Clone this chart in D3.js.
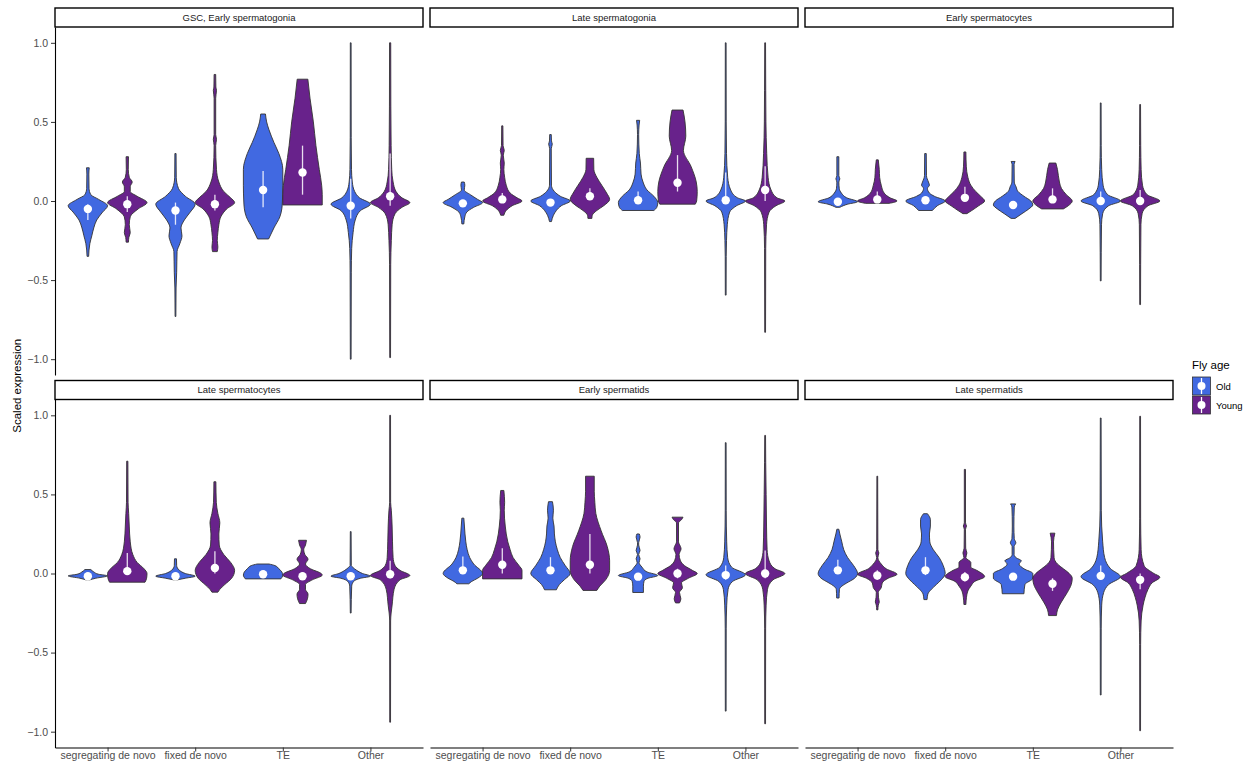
<!DOCTYPE html>
<html>
<head>
<meta charset="utf-8">
<script src="https://cdn.jsdelivr.net/npm/d3@7"></script>
<style>
  body { margin: 0; background: #fff; }
  svg { font-family: "Liberation Sans", Arial, sans-serif; }
  .tick text { fill: #4d4d4d; font-size: 10.5px; }
  .tick line { stroke: #333; }
  .domain { stroke: #000; }
</style>
</head>
<body>
<svg id="chart-svg" width="1250" height="763"></svg>
<script>
////////////////////////////////////////////////////////////////////////////////
// Data: facets, categories, summary values
var panels = ["GSC, Early spermatogonia", "Late spermatogonia", "Early spermatocytes",
              "Late spermatocytes", "Early spermatids", "Late spermatids"];
var categories = ["segregating de novo", "fixed de novo", "TE", "Other"];
var ages = ["Old", "Young"];
var yTicks = [-1, -0.5, 0, 0.5, 1];

// per panel, order: seg Old, seg Young, fixed Old, fixed Young, TE Old, TE Young, Other Old, Other Young
var medianVals = [
  [-0.05, -0.02, -0.06, -0.02, 0.07, 0.18, -0.03, 0.03],
  [-0.015, 0.01, -0.01, 0.03, 0.005, 0.115, 0.005, 0.07],
  [-0.005, 0.01, 0.005, 0.02, -0.025, 0.01, 0.0, 0.0],
  [-0.017, 0.015, -0.017, 0.035, -0.005, -0.017, -0.017, -0.005],
  [0.02, 0.055, 0.02, 0.055, -0.02, 0.0, -0.01, 0.0],
  [0.02, -0.013, 0.02, -0.023, -0.02, -0.065, -0.015, -0.04]
];
var lowerVals = [
  [-0.12, -0.07, -0.15, -0.06, -0.04, 0.04, -0.11, -0.03],
  [-0.03, -0.01, -0.03, 0.01, 0.0, 0.06, 0.0, 0.0],
  [-0.01, 0.005, 0.0, 0.02, -0.03, 0.01, 0.0, 0.0],
  [-0.02, 0.01, -0.02, 0.0, -0.01, -0.04, -0.02, -0.03],
  [0.0, 0.0, 0.0, 0.0, -0.03, -0.03, -0.04, -0.03],
  [0.0, -0.04, -0.01, -0.05, -0.04, -0.11, -0.04, -0.1]
];
var upperVals = [
  [-0.02, 0.03, -0.01, 0.04, 0.19, 0.35, 0.14, 0.30],
  [0.0, 0.05, 0.0, 0.08, 0.06, 0.29, 0.18, 0.22],
  [0.01, 0.06, 0.02, 0.09, 0.0, 0.08, 0.06, 0.07],
  [-0.01, 0.13, -0.01, 0.14, 0.0, 0.0, -0.01, 0.08],
  [0.108, 0.16, 0.103, 0.25, 0.0, 0.03, 0.05, 0.146],
  [0.087, 0.02, 0.103, 0.01, 0.0, -0.03, 0.05, 0.0]
];

// violin outlines: [value, relative half-width] from top to bottom
var shapeGSC = [
  [[0.21,0.07],[0.17,0.05],[0.08,0.06],[0.04,0.15],[0.01,0.55],[-0.03,1.0],[-0.07,0.75],[-0.12,0.45],[-0.17,0.3],[-0.22,0.2],[-0.27,0.1],[-0.35,0.04]],
  [[0.28,0.06],[0.2,0.05],[0.15,0.1],[0.12,0.25],[0.09,0.15],[0.06,0.15],[0.03,0.5],[-0.01,1.0],[-0.05,0.55],[-0.1,0.15],[-0.15,0.1],[-0.2,0.15],[-0.23,0.08],[-0.26,0.06]],
  [[0.30,0.03],[0.15,0.04],[0.08,0.15],[0.03,0.5],[-0.02,1.0],[-0.07,0.75],[-0.12,0.45],[-0.17,0.28],[-0.22,0.33],[-0.27,0.22],[-0.32,0.08],[-0.45,0.06],[-0.55,0.03],[-0.73,0.02]],
  [[0.80,0.04],[0.72,0.05],[0.70,0.08],[0.65,0.04],[0.42,0.04],[0.39,0.08],[0.35,0.04],[0.2,0.08],[0.12,0.2],[0.06,0.45],[0.02,0.8],[-0.01,1.0],[-0.05,0.6],[-0.1,0.3],[-0.15,0.2],[-0.2,0.15],[-0.25,0.12],[-0.29,0.15],[-0.32,0.12]],
  [[0.55,0.12],[0.5,0.18],[0.45,0.3],[0.37,0.55],[0.3,0.8],[0.2,1.0],[0.1,1.0],[0.0,0.98],[-0.05,0.95],[-0.1,0.85],[-0.17,0.55],[-0.24,0.28]],
  [[0.77,0.27],[0.65,0.38],[0.5,0.55],[0.35,0.68],[0.2,0.85],[0.1,0.97],[0.04,1.0],[-0.025,1.0]],
  [[1.0,0.02],[0.4,0.025],[0.2,0.04],[0.12,0.08],[0.06,0.2],[0.02,0.45],[-0.02,1.0],[-0.06,0.5],[-0.12,0.23],[-0.2,0.12],[-0.3,0.05],[-0.45,0.03],[-1.0,0.02]],
  [[1.0,0.03],[0.6,0.035],[0.35,0.05],[0.2,0.08],[0.12,0.15],[0.06,0.3],[0.02,0.6],[-0.01,1.0],[-0.04,0.6],[-0.08,0.25],[-0.15,0.1],[-0.25,0.06],[-0.4,0.03],[-0.99,0.02]]
];
var shapeLateSg = [
  [[0.12,0.07],[0.1,0.1],[0.07,0.07],[0.04,0.38],[0.01,0.75],[-0.01,1.0],[-0.04,0.55],[-0.07,0.2],[-0.1,0.1],[-0.145,0.05]],
  [[0.475,0.03],[0.35,0.04],[0.32,0.1],[0.29,0.05],[0.24,0.1],[0.2,0.08],[0.15,0.12],[0.1,0.2],[0.05,0.4],[0.02,0.75],[0.0,1.0],[-0.03,0.5],[-0.06,0.2],[-0.09,0.08]],
  [[0.42,0.04],[0.38,0.05],[0.36,0.09],[0.33,0.04],[0.1,0.05],[0.06,0.2],[0.03,0.5],[0.0,1.0],[-0.03,0.55],[-0.06,0.3],[-0.09,0.15],[-0.13,0.05]],
  [[0.27,0.19],[0.2,0.2],[0.15,0.35],[0.1,0.6],[0.05,0.85],[0.01,1.0],[-0.03,0.7],[-0.06,0.35],[-0.09,0.12],[-0.11,0.1]],
  [[0.51,0.08],[0.48,0.05],[0.42,0.03],[0.3,0.06],[0.24,0.12],[0.17,0.15],[0.12,0.25],[0.07,0.45],[0.03,0.8],[-0.01,1.0],[-0.04,0.95],[-0.06,0.8]],
  [[0.575,0.28],[0.5,0.38],[0.41,0.42],[0.32,0.3],[0.22,0.68],[0.12,0.95],[0.06,1.0],[0.0,0.97],[-0.02,0.9]],
  [[1.0,0.02],[0.5,0.025],[0.3,0.04],[0.15,0.1],[0.07,0.25],[0.02,0.6],[0.0,1.0],[-0.03,0.55],[-0.07,0.2],[-0.15,0.08],[-0.25,0.04],[-0.35,0.025],[-0.595,0.02]],
  [[1.0,0.02],[0.7,0.03],[0.5,0.04],[0.3,0.08],[0.15,0.15],[0.07,0.3],[0.02,0.6],[0.0,1.0],[-0.03,0.55],[-0.07,0.2],[-0.15,0.07],[-0.3,0.03],[-0.83,0.02]]
];
var shapeEarlySc = [
  [[0.28,0.05],[0.16,0.05],[0.14,0.1],[0.12,0.05],[0.08,0.07],[0.05,0.18],[0.02,0.45],[-0.005,1.0],[-0.02,0.5],[-0.04,0.1]],
  [[0.26,0.05],[0.2,0.1],[0.15,0.12],[0.1,0.2],[0.05,0.35],[0.02,0.65],[0.0,1.0],[-0.015,0.6]],
  [[0.30,0.04],[0.16,0.05],[0.12,0.15],[0.1,0.2],[0.08,0.1],[0.05,0.2],[0.03,0.45],[0.0,1.0],[-0.03,0.6],[-0.06,0.35]],
  [[0.31,0.05],[0.22,0.07],[0.15,0.15],[0.1,0.3],[0.06,0.55],[0.03,0.8],[0.0,1.0],[-0.03,0.7],[-0.06,0.35],[-0.08,0.1]],
  [[0.25,0.1],[0.23,0.05],[0.12,0.06],[0.09,0.15],[0.06,0.25],[0.03,0.55],[0.0,0.9],[-0.025,1.0],[-0.05,0.8],[-0.08,0.45],[-0.11,0.1]],
  [[0.24,0.17],[0.2,0.25],[0.12,0.35],[0.08,0.45],[0.04,0.7],[0.0,1.0],[-0.03,0.8],[-0.05,0.55]],
  [[0.62,0.02],[0.35,0.025],[0.2,0.05],[0.1,0.12],[0.04,0.35],[0.0,1.0],[-0.03,0.4],[-0.08,0.1],[-0.15,0.04],[-0.505,0.02]],
  [[0.61,0.02],[0.35,0.03],[0.2,0.05],[0.1,0.12],[0.04,0.35],[0.0,1.0],[-0.03,0.4],[-0.08,0.1],[-0.15,0.04],[-0.655,0.02]]
];
var shapeLateSc = [
  [[0.025,0.15],[0.01,0.3],[-0.005,0.55],[-0.015,1.0],[-0.03,0.4],[-0.04,0.1]],
  [[0.71,0.03],[0.45,0.04],[0.38,0.07],[0.3,0.1],[0.2,0.15],[0.12,0.28],[0.07,0.5],[0.03,0.85],[0.0,1.0],[-0.03,0.98],[-0.055,0.9]],
  [[0.093,0.05],[0.05,0.06],[0.02,0.2],[0.0,0.5],[-0.017,1.0],[-0.03,0.5],[-0.04,0.1]],
  [[0.58,0.05],[0.45,0.07],[0.38,0.15],[0.32,0.25],[0.25,0.2],[0.18,0.22],[0.12,0.45],[0.07,0.8],[0.02,1.0],[-0.03,0.85],[-0.07,0.5],[-0.1,0.25],[-0.118,0.15]],
  [[0.06,0.3],[0.05,0.6],[0.03,0.8],[0.01,0.95],[-0.01,1.0],[-0.034,0.9]],
  [[0.21,0.2],[0.18,0.15],[0.15,0.06],[0.12,0.12],[0.09,0.28],[0.06,0.15],[0.03,0.4],[0.0,0.95],[-0.01,1.0],[-0.04,0.5],[-0.07,0.15],[-0.1,0.15],[-0.13,0.28],[-0.16,0.25],[-0.19,0.15]],
  [[0.265,0.02],[0.05,0.03],[0.04,0.1],[0.02,0.3],[0.0,0.6],[-0.017,1.0],[-0.03,0.5],[-0.05,0.15],[-0.08,0.05],[-0.25,0.02]],
  [[1.0,0.02],[0.45,0.025],[0.4,0.06],[0.3,0.1],[0.2,0.12],[0.1,0.15],[0.05,0.25],[0.02,0.5],[-0.013,1.0],[-0.04,0.5],[-0.1,0.2],[-0.2,0.1],[-0.25,0.05],[-0.3,0.025],[-0.94,0.02]]
];
var shapeEarlySt = [
  [[0.35,0.05],[0.3,0.08],[0.2,0.15],[0.15,0.22],[0.1,0.35],[0.06,0.55],[0.0,1.0],[-0.03,0.75],[-0.05,0.45],[-0.065,0.3]],
  [[0.525,0.08],[0.45,0.12],[0.4,0.1],[0.3,0.15],[0.2,0.28],[0.15,0.4],[0.1,0.55],[0.05,0.85],[0.02,1.0],[-0.034,1.0]],
  [[0.454,0.1],[0.4,0.15],[0.35,0.12],[0.3,0.18],[0.25,0.2],[0.2,0.25],[0.15,0.35],[0.1,0.5],[0.05,0.75],[0.0,1.0],[-0.04,0.7],[-0.07,0.45],[-0.103,0.3]],
  [[0.615,0.22],[0.52,0.22],[0.45,0.25],[0.38,0.3],[0.27,0.57],[0.17,0.88],[0.08,1.0],[0.02,1.0],[-0.04,0.8],[-0.08,0.5],[-0.107,0.35]],
  [[0.25,0.06],[0.23,0.1],[0.195,0.03],[0.18,0.03],[0.146,0.1],[0.12,0.03],[0.093,0.1],[0.07,0.05],[0.04,0.2],[0.01,0.45],[-0.013,1.0],[-0.03,0.5],[-0.05,0.3],[-0.08,0.27],[-0.12,0.27]],
  [[0.356,0.28],[0.34,0.2],[0.32,0.05],[0.2,0.05],[0.17,0.15],[0.156,0.18],[0.12,0.08],[0.08,0.15],[0.05,0.35],[0.02,0.75],[0.0,1.0],[-0.03,0.55],[-0.06,0.2],[-0.09,0.25],[-0.12,0.1],[-0.16,0.17],[-0.186,0.1]],
  [[0.827,0.02],[0.4,0.025],[0.2,0.05],[0.1,0.1],[0.04,0.3],[-0.008,1.0],[-0.05,0.35],[-0.1,0.12],[-0.2,0.05],[-0.35,0.025],[-0.87,0.02]],
  [[0.873,0.02],[0.7,0.03],[0.5,0.05],[0.3,0.07],[0.15,0.1],[0.08,0.2],[0.03,0.5],[0.0,1.0],[-0.04,0.4],[-0.1,0.12],[-0.2,0.05],[-0.35,0.025],[-0.95,0.02]]
];
var shapeLateSt = [
  [[0.28,0.05],[0.25,0.1],[0.2,0.2],[0.15,0.3],[0.1,0.5],[0.05,0.8],[0.0,1.0],[-0.03,0.85],[-0.06,0.45],[-0.08,0.2],[-0.1,0.08],[-0.155,0.06]],
  [[0.615,0.02],[0.15,0.03],[0.13,0.08],[0.1,0.03],[0.06,0.2],[0.03,0.45],[-0.005,1.0],[-0.03,0.55],[-0.06,0.25],[-0.09,0.2],[-0.12,0.05],[-0.15,0.06],[-0.18,0.1],[-0.2,0.05],[-0.23,0.03]],
  [[0.378,0.1],[0.34,0.25],[0.3,0.25],[0.25,0.2],[0.2,0.22],[0.15,0.4],[0.1,0.7],[0.05,0.9],[0.0,1.0],[-0.04,0.8],[-0.07,0.55],[-0.1,0.3],[-0.13,0.12],[-0.165,0.08]],
  [[0.658,0.03],[0.32,0.03],[0.3,0.08],[0.28,0.03],[0.16,0.04],[0.13,0.1],[0.1,0.05],[0.07,0.3],[0.04,0.3],[0.02,0.6],[-0.02,1.0],[-0.05,0.5],[-0.08,0.3],[-0.11,0.15],[-0.15,0.08],[-0.196,0.05]],
  [[0.44,0.13],[0.42,0.06],[0.3,0.04],[0.22,0.06],[0.194,0.14],[0.17,0.05],[0.12,0.05],[0.1,0.15],[0.08,0.42],[0.06,0.3],[0.03,0.55],[0.0,1.0],[-0.03,1.0],[-0.07,0.6],[-0.128,0.55]],
  [[0.255,0.12],[0.2,0.05],[0.1,0.08],[0.06,0.25],[0.03,0.55],[0.0,0.85],[-0.03,1.0],[-0.07,0.95],[-0.12,0.75],[-0.18,0.45],[-0.23,0.25],[-0.266,0.2]],
  [[0.983,0.02],[0.4,0.03],[0.2,0.1],[0.1,0.2],[0.03,0.5],[-0.02,1.0],[-0.07,0.4],[-0.12,0.15],[-0.2,0.05],[-0.35,0.025],[-0.768,0.02]],
  [[0.994,0.02],[0.35,0.025],[0.15,0.05],[0.05,0.2],[0.0,0.7],[-0.023,1.0],[-0.06,0.6],[-0.1,0.4],[-0.15,0.25],[-0.2,0.15],[-0.3,0.05],[-0.45,0.025],[-0.994,0.02]]
];
var profiles = [shapeGSC, shapeLateSg, shapeEarlySc, shapeLateSc, shapeEarlySt, shapeLateSt];

////////////////////////////////////////////////////////////////////////////////
const svg = d3.select("#chart-svg");
var colors = { Old: "#4169E1", Young: "#68228B" };
var colX = [55, 430, 805];
var stripTop = [8, 380.5];
var stripH = 19;
var pw = 368, ph = 348;

var x = d3.scalePoint().domain(categories).range([0, pw]).padding(0.6);
var step = x.step();
var dodge = d3.scaleBand().domain(ages).range([-0.45 * step, 0.45 * step]);
var w = d3.scaleLinear().domain([0, 1]).range([0, dodge.bandwidth() / 2]);
var y = d3.scaleLinear().domain([-1.1, 1.1]).range([ph, 0]);

panels.forEach(function(name, p) {
  var col = p % 3, row = Math.floor(p / 3);
  var top = stripTop[row] + stripH;
  var g = svg.append("g").attr("transform", "translate(" + colX[col] + "," + top + ")");

  // strip
  svg.append("rect")
     .attr("x", colX[col]).attr("y", stripTop[row])
     .attr("width", pw).attr("height", stripH)
     .attr("fill", "#fff").attr("stroke", "#000").attr("stroke-width", 1.4);
  svg.append("text")
     .attr("x", colX[col] + pw / 2).attr("y", stripTop[row] + stripH / 2 + 3.3)
     .attr("text-anchor", "middle").attr("font-size", "9.5px").attr("fill", "#1a1a1a")
     .text(name);

  // violins
  profiles[p].forEach(function(shape, k) {
    var cat = categories[Math.floor(k / 2)], age = ages[k % 2];
    var cx = x(cat) + dodge(age) + dodge.bandwidth() / 2;
    var area = d3.area()
        .curve(d3.curveMonotoneY)
        .y(function(d) { return y(d[0]); })
        .x0(function(d) { return cx - w(d[1]); })
        .x1(function(d) { return cx + w(d[1]); });
    g.append("path")
     .attr("d", area(shape))
     .attr("fill", colors[age])
     .attr("stroke", "#333")
     .attr("stroke-width", 0.9)
     .attr("stroke-linejoin", "round");
    g.append("line")
     .attr("x1", cx).attr("x2", cx)
     .attr("y1", y(lowerVals[p][k])).attr("y2", y(upperVals[p][k]))
     .attr("stroke", "#fff").attr("stroke-opacity", 0.85).attr("stroke-width", 1.3);
    g.append("circle")
     .attr("cx", cx).attr("cy", y(medianVals[p][k]))
     .attr("r", 4.2).attr("fill", "#fff");
  });

  // axes (theme_classic: only outer left / bottom)
  if (col == 0) {
    g.append("g")
     .call(d3.axisLeft(y).tickValues(yTicks).tickFormat(d3.format(".1f")).tickSize(4).tickSizeOuter(0))
     .call(function(a) { a.select(".domain").attr("stroke-width", 1.1); });
  }
  if (row == 1) {
    g.append("g")
     .attr("transform", "translate(0," + ph + ")")
     .call(d3.axisBottom(x).tickSize(4).tickPadding(0.5).tickSizeOuter(0))
     .call(function(a) { a.select(".domain").attr("stroke-width", 1.1); });
  }
});

// y axis title
svg.append("text")
   .attr("transform", "translate(21," + (stripTop[0] + (stripTop[1] + stripH + ph - stripTop[0]) / 2 + 8) + ") rotate(-90)")
   .attr("text-anchor", "middle").attr("font-size", "11.5px").attr("fill", "#000")
   .text("Scaled expression");

// legend
var legend = svg.append("g").attr("transform", "translate(1192,358)");
legend.append("text").attr("x", 0).attr("y", 11).attr("font-size", "11.5px").attr("fill", "#000").text("Fly age");
ages.forEach(function(age, i) {
  var ky = 19 + i * 19;
  legend.append("rect").attr("x", 0.5).attr("y", ky).attr("width", 18).attr("height", 18)
        .attr("fill", colors[age]).attr("stroke", "#333").attr("stroke-width", 0.8);
  legend.append("line").attr("x1", 9.5).attr("x2", 9.5).attr("y1", ky + 1).attr("y2", ky + 17)
        .attr("stroke", "#fff").attr("stroke-width", 1.3);
  legend.append("circle").attr("cx", 9.5).attr("cy", ky + 9).attr("r", 4).attr("fill", "#fff");
  legend.append("text").attr("x", 24).attr("y", ky + 12.5).attr("font-size", "9.5px").attr("fill", "#000").text(age);
});
</script>
</body>
</html>
